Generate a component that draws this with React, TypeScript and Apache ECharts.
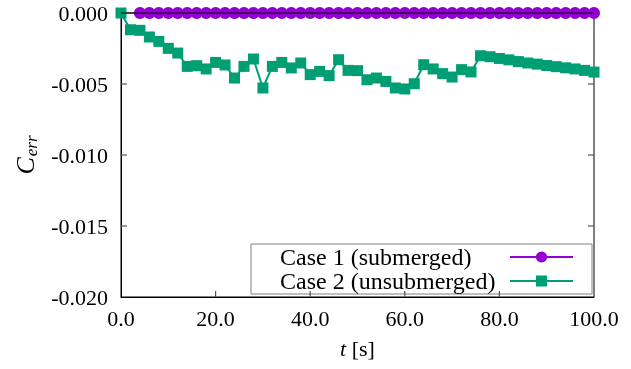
import React, { useEffect, useRef } from "react";
import * as echarts from "echarts";

const FONT = "Liberation Serif";

const case1Times = [4, 6, 8, 10, 12, 14, 16, 18, 20, 22, 24, 26, 28, 30, 32, 34, 36, 38, 40, 42, 44, 46, 48, 50, 52, 54, 56, 58, 60, 62, 64, 66, 68, 70, 72, 74, 76, 78, 80, 82, 84, 86, 88, 90, 92, 94, 96, 98, 100];
const case1Values = case1Times.map(() => 0);

const case2Times = [0, 2, 4, 6, 8, 10, 12, 14, 16, 18, 20, 22, 24, 26, 28, 30, 32, 34, 36, 38, 40, 42, 44, 46, 48, 50, 52, 54, 56, 58, 60, 62, 64, 66, 68, 70, 72, 74, 76, 78, 80, 82, 84, 86, 88, 90, 92, 94, 96, 98, 100];
const case2Values = [
  0, -0.00118, -0.00122, -0.00169, -0.002, -0.00249, -0.00282, -0.00376, -0.00371, -0.00394,
  -0.00348, -0.00366, -0.00458, -0.00376, -0.00324, -0.00528, -0.00376, -0.00348, -0.00387, -0.00352,
  -0.00434, -0.00411, -0.00441, -0.00329, -0.00404, -0.00406, -0.0047, -0.00458, -0.00482, -0.00528,
  -0.00535, -0.00498, -0.00364, -0.00394, -0.00427, -0.00451, -0.00399, -0.00415, -0.00301, -0.00308,
  -0.0032, -0.0033, -0.00342, -0.00352, -0.0036, -0.0037, -0.00378, -0.00386, -0.00394, -0.00404, -0.00416,
];

const seriesNames = ["Case 1 (submerged)", "Case 2 (unsubmerged)"];
const seriesColors = ["#9400d3", "#009e73"];

const xMin = 0, xMax = 100, xInterval = 20;
const yMin = -0.02, yMax = 0, yInterval = 0.005;
const xInnerTicks = [20, 40, 60, 80];
const yInnerTicks = [-0.015, -0.01, -0.005];

const TICK_LEN = 6;
const TICK_COLOR = "#555";

export default function App() {
  const ref = useRef<HTMLDivElement>(null);
  useEffect(() => {
    if (!ref.current) return;
    const chart = echarts.init(ref.current, null, { renderer: "svg" });
    chart.setOption({
      animation: false,
      grid: { left: 121, right: 37, top: 13, bottom: 72, containLabel: false, show: true, borderColor: "#000", borderWidth: 1, backgroundColor: "transparent" },
      xAxis: {
        type: "value", min: xMin, max: xMax, interval: xInterval, position: "bottom",
        axisLine: { show: true, onZero: false, lineStyle: { color: "#000", width: 1 } },
        axisTick: { show: false },
        splitLine: { show: false },
        axisLabel: { formatter: (v: number) => v.toFixed(1), fontFamily: FONT, fontSize: 22, color: "#000", margin: 10 },
        name: "{i|t} [s]", nameLocation: "middle", nameGap: 40,
        nameTextStyle: {
          fontFamily: FONT, fontSize: 22, color: "#000",
          rich: { i: { fontFamily: FONT, fontSize: 22, fontStyle: "italic", color: "#000" } },
        },
      },
      yAxis: {
        type: "value", min: yMin, max: yMax, interval: yInterval, position: "left",
        axisLine: { show: true, onZero: false, lineStyle: { color: "#000", width: 1 } },
        axisTick: { show: false },
        splitLine: { show: false },
        axisLabel: { formatter: (v: number) => v.toFixed(3), fontFamily: FONT, fontSize: 22, color: "#000", margin: 13 },
        name: "{c|C}{s|err}", nameLocation: "middle", nameRotate: 90, nameGap: 82,
        nameTextStyle: {
          fontFamily: FONT, fontSize: 24, color: "#000",
          rich: {
            c: { fontFamily: FONT, fontSize: 26, fontStyle: "italic", color: "#000", lineHeight: 26, verticalAlign: "top" },
            s: { fontFamily: FONT, fontSize: 17, fontStyle: "italic", color: "#000", lineHeight: 17, verticalAlign: "top", padding: [11, 0, 0, 1] },
          },
        },
      },
      legend: {
        show: true,
        orient: "vertical",
        left: 251,
        top: 244,
        align: "right",
        padding: [1, 18, 1, 29],
        itemGap: 0,
        itemWidth: 63,
        itemHeight: 14,
        borderColor: "#808080",
        borderWidth: 1,
        borderRadius: 0,
        backgroundColor: "#fff",
        data: seriesNames,
        formatter: (name: string) => "{a|" + name + "}",
        textStyle: {
          fontFamily: FONT, fontSize: 24, color: "#000", lineHeight: 23.5,
          rich: { a: { fontFamily: FONT, fontSize: 24, color: "#000", width: 225, align: "left", lineHeight: 23.5 } },
        },
      },
      series: [
        {
          name: seriesNames[0],
          type: "line",
          data: case1Times.map((t, i) => [t, case1Values[i]]),
          symbol: "circle",
          symbolSize: 12,
          clip: false,
          color: seriesColors[0],
          lineStyle: { color: seriesColors[0], width: 2 },
          itemStyle: { color: seriesColors[0] },
        },
        {
          name: seriesNames[1],
          type: "line",
          data: case2Times.map((t, i) => [t, case2Values[i]]),
          symbol: "rect",
          symbolSize: 11,
          clip: false,
          color: seriesColors[1],
          lineStyle: { color: seriesColors[1], width: 2 },
          itemStyle: { color: seriesColors[1] },
        },
        {
          name: "xticks",
          type: "custom",
          silent: true,
          z: 10,
          clip: false,
          data: xInnerTicks.map((v) => [v, yMin]),
          renderItem: (_p: any, api: any) => {
            const v = api.value(0);
            const b = api.coord([v, yMin]);
            const t = api.coord([v, yMax]);
            const style = { stroke: TICK_COLOR, lineWidth: 1.2, fill: null };
            return {
              type: "group",
              children: [
                { type: "line", shape: { x1: b[0], y1: b[1], x2: b[0], y2: b[1] - TICK_LEN }, style },
                { type: "line", shape: { x1: t[0], y1: t[1], x2: t[0], y2: t[1] + TICK_LEN }, style },
              ],
            };
          },
        },
        {
          name: "yticks",
          type: "custom",
          silent: true,
          z: 10,
          clip: false,
          data: yInnerTicks.map((v) => [xMin, v]),
          renderItem: (_p: any, api: any) => {
            const v = api.value(1);
            const l = api.coord([xMin, v]);
            const r = api.coord([xMax, v]);
            const style = { stroke: TICK_COLOR, lineWidth: 1.2, fill: null };
            return {
              type: "group",
              children: [
                { type: "line", shape: { x1: l[0], y1: l[1], x2: l[0] + TICK_LEN, y2: l[1] }, style },
                { type: "line", shape: { x1: r[0], y1: r[1], x2: r[0] - TICK_LEN, y2: r[1] }, style },
              ],
            };
          },
        },
        {
          name: "topframe",
          type: "custom",
          silent: true,
          z: 10,
          clip: false,
          data: [[xMin, yMax]],
          renderItem: (_p: any, api: any) => {
            const a = api.coord([xMin, yMax]);
            const b = api.coord([xMax, yMax]);
            return { type: "line", shape: { x1: a[0], y1: a[1], x2: b[0], y2: b[1] }, style: { stroke: "#000", lineWidth: 1, fill: null } };
          },
        },
      ],
    });
    return () => chart.dispose();
  }, []);
  return <div ref={ref} style={{ position: "fixed", left: 0, top: 0, width: 631, height: 369 }} />;
}
